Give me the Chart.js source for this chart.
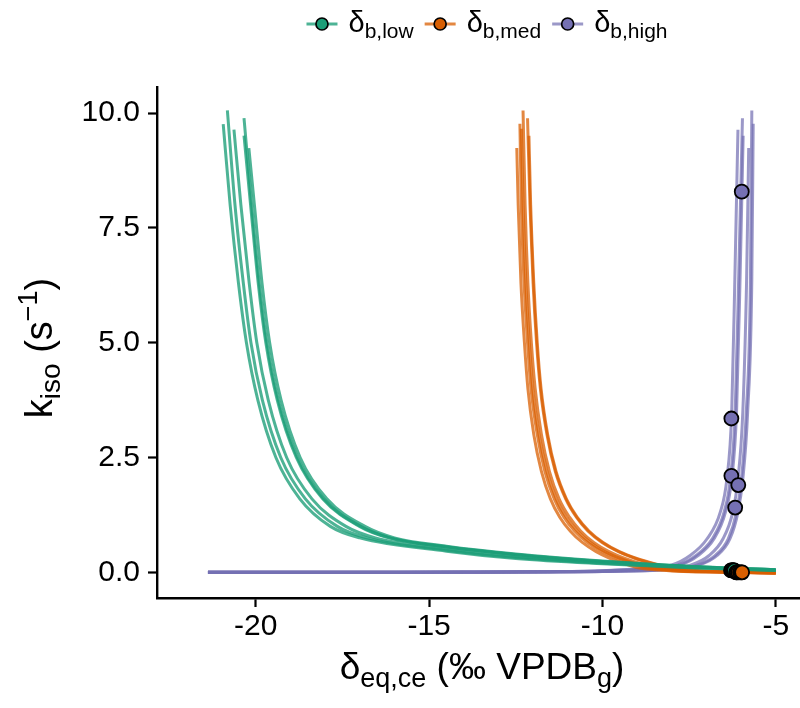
<!DOCTYPE html>
<html>
<head>
<meta charset="utf-8">
<script src="https://cdn.jsdelivr.net/npm/chart.js@4"></script>
<style>
  body { margin: 0; background: #fff; }
  canvas { display: block; }
</style>
</head>
<body>
<canvas id="chart" width="800" height="708"></canvas>
<script>
// curves: delta_eq,ce (x) and k_iso (y), six per group
const lowDelta = [
  [-20.94, -20.74, -20.50, -20.27, -19.94, -19.42, -18.73, -17.85, -17.00, -14.5, -12.5, -10, -7.5, -5],
  [-20.82, -20.60, -20.36, -20.14, -19.81, -19.28, -18.57, -17.65, -16.80, -14.5, -12.5, -10, -7.5, -5],
  [-20.63, -20.43, -20.19, -19.97, -19.64, -19.11, -18.38, -17.40, -16.55, -14.5, -12.5, -10, -7.5, -5],
  [-20.34, -20.12, -19.90, -19.68, -19.35, -18.80, -18.04, -16.97, -16.12, -14.5, -12.5, -10, -7.5, -5],
  [-20.34, -20.15, -19.93, -19.71, -19.38, -18.83, -18.07, -17.01, -16.16, -14.5, -12.5, -10, -7.5, -5],
  [-20.20, -20.04, -19.82, -19.60, -19.27, -18.72, -17.95, -16.85, -16.00, -14.5, -12.5, -10, -7.5, -5]
];
const lowK = [
  [9.76, 8.0, 6.3, 5.0, 3.75, 2.5, 1.6, 1.0, 0.75, 0.46, 0.30, 0.185, 0.10, 0.04],
  [10.06, 8.0, 6.3, 5.0, 3.75, 2.5, 1.6, 1.0, 0.75, 0.482, 0.32, 0.197, 0.106, 0.043],
  [9.64, 8.0, 6.3, 5.0, 3.75, 2.5, 1.6, 1.0, 0.75, 0.51, 0.345, 0.212, 0.113, 0.047],
  [9.89, 8.0, 6.3, 5.0, 3.75, 2.5, 1.6, 1.0, 0.75, 0.557, 0.388, 0.237, 0.126, 0.053],
  [9.51, 8.0, 6.3, 5.0, 3.75, 2.5, 1.6, 1.0, 0.75, 0.552, 0.384, 0.235, 0.125, 0.052],
  [9.24, 8.0, 6.3, 5.0, 3.75, 2.5, 1.6, 1.0, 0.75, 0.57, 0.40, 0.245, 0.13, 0.055]
];

const medDelta = [
  [-12.47, -12.43, -12.35, -12.25, -12.15, -11.98, -11.76, -11.50, -11.23, -10.93, -10.58, -10.18, -9.77, -9.34, -8.97, -8.50, -8.00, -7.20, -6.30, -5.0],
  [-12.38, -12.34, -12.26, -12.16, -12.06, -11.88, -11.66, -11.39, -11.11, -10.80, -10.43, -10.01, -9.58, -9.12, -8.73, -8.25, -7.80, -7.00, -6.20, -5.0],
  [-12.34, -12.29, -12.21, -12.11, -12.01, -11.83, -11.60, -11.33, -11.04, -10.72, -10.35, -9.93, -9.48, -9.01, -8.61, -8.15, -7.70, -6.90, -6.10, -5.0],
  [-12.29, -12.23, -12.15, -12.05, -11.94, -11.76, -11.53, -11.25, -10.95, -10.63, -10.25, -9.81, -9.35, -8.86, -8.44, -7.95, -7.50, -6.70, -6.00, -5.0],
  [-12.16, -12.09, -12.00, -11.90, -11.79, -11.60, -11.36, -11.06, -10.75, -10.42, -10.01, -9.54, -9.05, -8.51, -8.06, -7.55, -7.10, -6.30, -5.70, -5.0],
  [-12.12, -12.07, -11.98, -11.88, -11.77, -11.58, -11.34, -11.04, -10.73, -10.39, -9.98, -9.51, -9.01, -8.47, -8.01, -7.50, -7.05, -6.25, -5.65, -5.0]
];
const medK = [
  [9.24, 8.0, 6.3, 5.0, 4.0, 3.0, 2.2, 1.6, 1.2, 0.9, 0.65, 0.45, 0.3, 0.18, 0.1, 0.055, 0.03, 0.01, 0.0, -0.02],
  [9.77, 8.0, 6.3, 5.0, 4.0, 3.0, 2.2, 1.6, 1.2, 0.9, 0.65, 0.45, 0.3, 0.18, 0.1, 0.055, 0.03, 0.01, 0.0, -0.018],
  [9.66, 8.0, 6.3, 5.0, 4.0, 3.0, 2.2, 1.6, 1.2, 0.9, 0.65, 0.45, 0.3, 0.18, 0.1, 0.055, 0.03, 0.01, 0.0, -0.017],
  [10.06, 8.0, 6.3, 5.0, 4.0, 3.0, 2.2, 1.6, 1.2, 0.9, 0.65, 0.45, 0.3, 0.18, 0.1, 0.055, 0.03, 0.01, 0.0, -0.015],
  [9.89, 8.0, 6.3, 5.0, 4.0, 3.0, 2.2, 1.6, 1.2, 0.9, 0.65, 0.45, 0.3, 0.18, 0.1, 0.055, 0.03, 0.01, 0.0, -0.011],
  [9.51, 8.0, 6.3, 5.0, 4.0, 3.0, 2.2, 1.6, 1.2, 0.9, 0.65, 0.45, 0.3, 0.18, 0.1, 0.055, 0.03, 0.01, 0.0, -0.01]
];

const highDelta = [
  [-21.38, -17, -14, -11.5, -10, -9.10, -8.00, -7.48, -6.98, -6.60, -6.41, -6.27, -6.18, -6.09],
  [-21.38, -17, -14, -11.5, -10, -8.84, -7.82, -7.31, -6.83, -6.49, -6.31, -6.17, -6.07, -5.96],
  [-21.38, -17, -14, -11.5, -10, -8.74, -7.76, -7.25, -6.78, -6.45, -6.27, -6.13, -6.03, -5.94],
  [-21.38, -17, -14, -11.5, -10, -8.26, -7.44, -6.93, -6.52, -6.24, -6.09, -5.95, -5.84, -5.78],
  [-21.38, -17, -14, -11.5, -10, -8.00, -7.26, -6.76, -6.37, -6.13, -5.99, -5.85, -5.73, -5.69],
  [-21.38, -17, -14, -11.5, -10, -7.90, -7.20, -6.70, -6.32, -6.09, -5.95, -5.81, -5.69, -5.65]
];
const highK = [
  [0.0, 0.002, 0.005, 0.015, 0.035, 0.07, 0.16, 0.36, 0.73, 1.31, 2.03, 3.49, 6.38, 9.64],
  [0.0, 0.002, 0.005, 0.013, 0.03, 0.07, 0.16, 0.36, 0.73, 1.31, 2.03, 3.49, 6.38, 9.89],
  [0.0, 0.002, 0.004, 0.012, 0.028, 0.07, 0.16, 0.36, 0.73, 1.31, 2.03, 3.49, 6.38, 9.51],
  [0.0, 0.001, 0.003, 0.01, 0.022, 0.07, 0.16, 0.36, 0.73, 1.31, 2.03, 3.49, 6.38, 9.24],
  [0.0, 0.001, 0.003, 0.008, 0.018, 0.07, 0.16, 0.36, 0.73, 1.31, 2.03, 3.49, 6.38, 10.06],
  [0.0, 0.001, 0.003, 0.008, 0.016, 0.07, 0.16, 0.36, 0.73, 1.31, 2.03, 3.49, 6.38, 9.77]
];

// observed points
const lowPointDelta = [-6.29, -6.27, -6.25, -6.23, -6.21, -6.20];
const lowPointK = [0.04, 0.04, 0.04, 0.04, 0.04, 0.04];
const medPointDelta = [-6.14, -6.12, -6.08, -6.03, -5.99, -5.97];
const medPointK = [0.0, 0.0, 0.0, 0.0, 0.0, 0.0];
const highPointDelta = [-5.98, -6.28, -6.28, -6.08, -6.17];
const highPointK = [8.29, 3.35, 2.10, 1.90, 1.41];

const xTicks = [-20, -15, -10, -5];
const yTicks = [0, 2.5, 5, 7.5, 10];

const FONT = '"Liberation Sans", Arial, Helvetica, sans-serif';
const GREEN = '#1B9E77', ORANGE = '#D95F02', PURPLE = '#7570B3';
const GREEN_A = 'rgba(27,158,119,0.78)', ORANGE_A = 'rgba(217,95,2,0.75)', PURPLE_A = 'rgba(117,112,179,0.72)';

const toXY = (xs, ys) => xs.map((x, i) => ({x: x, y: ys[i]}));

const datasets = [];
const addCurves = (dx, dk, color) => {
  dx.forEach((xs, i) => {
    datasets.push({
      data: toXY(xs, dk[i]),
      showLine: true,
      borderColor: color,
      borderWidth: 3,
      pointRadius: 0,
      cubicInterpolationMode: 'monotone',
      order: 10
    });
  });
};
addCurves(lowDelta, lowK, GREEN_A);
addCurves(medDelta, medK, ORANGE_A);
addCurves(highDelta, highK, PURPLE_A);

const addPoints = (xs, ys, color, order) => {
  datasets.push({
    data: toXY(xs, ys),
    showLine: false,
    pointRadius: 7,
    pointBackgroundColor: color,
    pointBorderColor: '#000',
    pointBorderWidth: 1.8,
    order: order
  });
};
addPoints(lowPointDelta, lowPointK, GREEN, 2);
addPoints(medPointDelta, medPointK, ORANGE, 1);
addPoints(highPointDelta, highPointK, PURPLE, 0);

function richWidth(ctx, parts) {
  let w = 0;
  parts.forEach(p => { ctx.font = p.size + 'px ' + FONT; w += ctx.measureText(p.t).width; });
  return w;
}
function drawRich(ctx, parts, x, y) {
  let cx = x;
  parts.forEach(p => {
    ctx.font = p.size + 'px ' + FONT;
    ctx.fillText(p.t, cx, y + (p.dy || 0));
    cx += ctx.measureText(p.t).width;
  });
}

const legendItems = [
  {color: GREEN, line: GREEN_A, parts: [{t: 'δ', size: 29}, {t: 'b,low', size: 21, dy: 6}]},
  {color: ORANGE, line: ORANGE_A, parts: [{t: 'δ', size: 29}, {t: 'b,med', size: 21, dy: 6}]},
  {color: PURPLE, line: PURPLE_A, parts: [{t: 'δ', size: 29}, {t: 'b,high', size: 21, dy: 6}]}
];

const decor = {
  id: 'decor',
  afterDraw(chart) {
    const ctx = chart.ctx;
    ctx.save();
    ctx.fillStyle = '#000';
    ctx.textBaseline = 'alphabetic';

    // legend
    const lineLen = 31, gap = 11;
    const widths = legendItems.map(it => lineLen + gap + richWidth(ctx, it.parts));
    const total = widths.reduce((a, b) => a + b, 0) + gap * (legendItems.length - 1);
    let lx = 487 - total / 2;
    const ly = 24;
    legendItems.forEach((it, i) => {
      ctx.strokeStyle = it.line;
      ctx.lineWidth = 3;
      ctx.beginPath();
      ctx.moveTo(lx, ly);
      ctx.lineTo(lx + lineLen, ly);
      ctx.stroke();
      ctx.beginPath();
      ctx.arc(lx + lineLen / 2, ly, 6, 0, Math.PI * 2);
      ctx.fillStyle = it.color;
      ctx.fill();
      ctx.strokeStyle = '#000';
      ctx.lineWidth = 1.7;
      ctx.stroke();
      ctx.fillStyle = '#000';
      drawRich(ctx, it.parts, lx + lineLen + gap, 32);
      lx += widths[i] + gap;
    });

    // x title
    const xt = [
      {t: 'δ', size: 37}, {t: 'eq,ce', size: 27, dy: 8},
      {t: ' (‰ VPDB', size: 37}, {t: 'g', size: 27, dy: 8}, {t: ')', size: 37}
    ];
    const xw = richWidth(ctx, xt);
    drawRich(ctx, xt, 482 - xw / 2, 679);

    // y title
    const yt = [
      {t: 'k', size: 38}, {t: 'iso', size: 28, dy: 8},
      {t: ' (s', size: 38}, {t: '−1', size: 27, dy: -15}, {t: ')', size: 38}
    ];
    const yw = richWidth(ctx, yt);
    ctx.translate(52, 348);
    ctx.rotate(-Math.PI / 2);
    drawRich(ctx, yt, -yw / 2, 0);
    ctx.restore();
  }
};

const chart = new Chart(document.getElementById('chart'), {
  type: 'scatter',
  data: { datasets: datasets },
  options: {
    responsive: false,
    animation: false,
    layout: { autoPadding: false, padding: { top: 87, left: 0, right: 0, bottom: 0 } },
    plugins: { legend: { display: false }, tooltip: { enabled: false } },
    scales: {
      x: {
        type: 'linear',
        min: -22.85,
        max: -4.3,
        afterBuildTicks: axis => { axis.ticks = xTicks.map(v => ({value: v})); },
        afterFit: scale => { scale.height = 110; scale.paddingLeft = 0; scale.paddingRight = 0; },
        ticks: {
          color: '#000',
          font: { family: FONT, size: 30 },
          padding: 2,
          maxRotation: 0,
          callback: v => String(v)
        },
        grid: { drawOnChartArea: false, drawTicks: true, tickLength: 9, tickColor: '#000', tickWidth: 2.2 },
        border: { display: true, color: '#000', width: 2.4 }
      },
      y: {
        type: 'linear',
        min: -0.56,
        max: 10.57,
        afterBuildTicks: axis => { axis.ticks = yTicks.map(v => ({value: v})); },
        afterFit: scale => { scale.width = 157; scale.paddingTop = 0; scale.paddingBottom = 0; },
        ticks: {
          color: '#000',
          font: { family: FONT, size: 30 },
          padding: 8,
          callback: v => v.toFixed(1)
        },
        grid: { drawOnChartArea: false, drawTicks: true, tickLength: 9, tickColor: '#000', tickWidth: 2.2 },
        border: { display: true, color: '#000', width: 2.4 }
      }
    }
  },
  plugins: [decor]
});
</script>
</body>
</html>
